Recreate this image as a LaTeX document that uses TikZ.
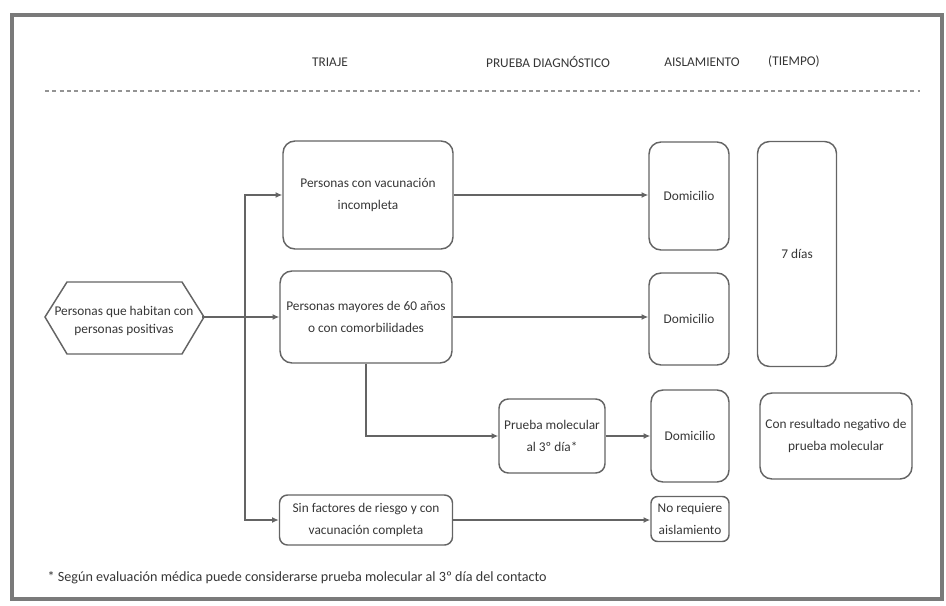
\documentclass[tikz,border=0pt]{standalone}
\usepackage{fontspec}
\setmainfont{Carlito}
\usetikzlibrary{arrows.meta,positioning}

\definecolor{tinta}{HTML}{363636}
\definecolor{trazo}{HTML}{646464}
\definecolor{marco}{HTML}{7A7A7A}

\tikzset{
  caja/.style={draw=trazo, line width=1.1pt, rounded corners=9pt, align=center,
               text=tinta, font=\fontsize{10}{16}\selectfont, inner sep=1pt},
  texto/.style={align=center, text=tinta, font=\fontsize{10}{13}\selectfont, inner sep=1pt},
  flecha/.style={draw=trazo, line width=1.3pt, -{Latex[length=5pt,width=4.5pt]}},
  titulo/.style={text=tinta, font=\fontsize{10}{12}\selectfont},
}

\begin{document}
\begin{tikzpicture}[x=0.75pt, y=-0.75pt]
  \useasboundingbox (0,0) rectangle (946,606);
  \draw[marco, line width=3.5pt] (12,15) rectangle (942,599);

  % Column titles
  \node[titulo] (triaje)  at (330,62) {TRIAJE};
  \node[titulo] (prueba)  at (548,62) {PRUEBA DIAGNÓSTICO};
  \node[titulo] (aisla)   at (702,62) {AISLAMIENTO};
  \node[titulo] (tiempo)  at (794,62) {(TIEMPO)};
  \draw[trazo!70, line width=1pt, dash pattern=on 3pt off 2.5pt] (45,91) -- (920,91);

  % Define nodes
  \node[texto] (hab) at (124,321) {Personas que habitan con\\personas positivas};
  \draw[trazo, line width=1.1pt] (hab.center) ++(-79,-4) -- ++(22,-35) -- ++(115,0)
       -- ++(22,35) -- ++(-22,37) -- ++(-115,0) -- cycle;
  \node[caja, minimum width=170*0.75pt, minimum height=108*0.75pt] (vac) at (368,195)
       {Personas con vacunación\\incompleta};
  \node[caja, minimum width=172*0.75pt, minimum height=92*0.75pt]  (may) at (366,317)
       {Personas mayores de 60 años\\o con comorbilidades};
  \node[caja, minimum width=106*0.75pt, minimum height=74*0.75pt, rounded corners=7pt] (mol) at (552,436)
       {Prueba molecular\\al 3º día*};
  \node[caja, minimum width=173*0.75pt, minimum height=50*0.75pt, rounded corners=6pt] (sin) at (366,520)
       {Sin factores de riesgo y con\\vacunación completa};
  \node[caja, minimum width=80*0.75pt, minimum height=108*0.75pt] (dom1) at (689,196) {Domicilio};
  \node[caja, minimum width=80*0.75pt, minimum height=92*0.75pt]  (dom2) at (689,319) {Domicilio};
  \node[caja, minimum width=78*0.75pt, minimum height=92*0.75pt]  (dom3) at (690,436) {Domicilio};
  \node[caja, minimum width=78*0.75pt, minimum height=45*0.75pt, rounded corners=5pt] (noreq) at (690,519)
       {No requiere\\aislamiento};
  \node[caja, minimum width=79*0.75pt, minimum height=225*0.75pt] (dias) at (797,254) {7 días};
  \node[caja, minimum width=152*0.75pt, minimum height=86*0.75pt] (neg) at (836,436)
       {Con resultado negativo de\\prueba molecular};

  \coordinate (punta) at (202,317);
  \coordinate (rama) at (245,317);

  % Connect the nodes
  \draw[flecha] (punta) -- (may.west);
  \draw[flecha] (rama) |- (vac.west);
  \draw[flecha] (rama) |- (sin.west);
  \draw[flecha] (vac.east) -- (vac.east -| dom1.west);
  \draw[flecha] (may.east) -- (may.east -| dom2.west);
  \draw[flecha] (may.south) |- (mol.west);
  \draw[flecha] (mol.east) -- (mol.east -| dom3.west);
  \draw[flecha] (sin.east) -- (sin.east -| noreq.west);

  \node[titulo, anchor=west, font=\fontsize{10.6}{12}\selectfont] (nota) at (43,578)
       {* Según evaluación médica puede considerarse prueba molecular al 3º día del contacto};
\end{tikzpicture}
\end{document}
